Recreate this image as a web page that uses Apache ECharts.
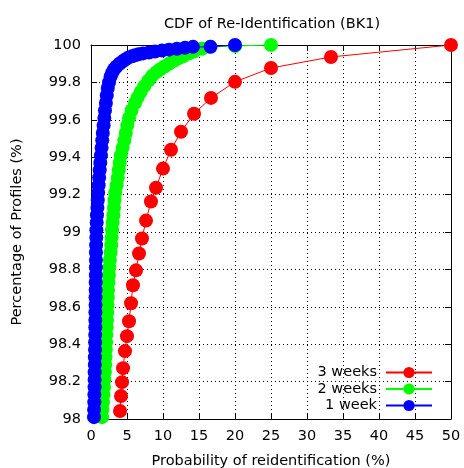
<!DOCTYPE html>
<html>
<head>
<meta charset="utf-8">
<script src="https://cdn.jsdelivr.net/npm/echarts/dist/echarts.min.js"></script>
<style>
  html, body { margin: 0; padding: 0; background: #fff; }
  #chart { width: 464px; height: 468px; }
</style>
</head>
<body>
<div id="chart"></div>
<script>
const seriesNames = ['3 weeks', '2 weeks', '1 week']
const seriesColors = ['#ff0000', '#00ff00', '#0000ff']

// 3 weeks
const redX = [4.03, 4.17, 4.31, 4.45, 4.72, 5.0, 5.28, 5.56, 5.83, 6.25, 6.67, 7.08, 7.64, 8.33, 9.03, 10.0, 11.11, 12.5, 14.31, 16.67, 20, 25, 33.33, 50]
const redY = [98.043, 98.123, 98.197, 98.272, 98.363, 98.443, 98.523, 98.619, 98.715, 98.795, 98.885, 98.965, 99.061, 99.163, 99.237, 99.339, 99.44, 99.536, 99.632, 99.717, 99.803, 99.877, 99.936, 100]

// 2 weeks
const greenX = [1.53, 1.58, 1.65, 1.74, 1.79, 1.86, 1.92, 1.97, 2.01, 2.06, 2.10, 2.14, 2.18, 2.22, 2.25, 2.29, 2.33, 2.36, 2.42, 2.49, 2.54, 2.62, 2.72, 2.81, 2.86, 2.92, 3.01, 3.11, 3.19, 3.26, 3.36, 3.56, 3.72, 3.86, 3.99, 4.14, 4.39, 4.63, 4.83, 5.04, 5.28, 5.63, 6.11, 6.49, 6.92, 7.40, 7.99, 8.51, 9.10, 9.63, 10.21, 10.83, 11.53, 12.22, 12.78, 13.61, 14.31, 15.42, 16.53, 20, 25]
const greenY = [98.01, 98.05, 98.09, 98.13, 98.17, 98.21, 98.25, 98.29, 98.33, 98.37, 98.41, 98.45, 98.49, 98.53, 98.57, 98.61, 98.65, 98.69, 98.73, 98.77, 98.81, 98.85, 98.89, 98.93, 98.97, 99.01, 99.05, 99.09, 99.13, 99.17, 99.21, 99.25, 99.29, 99.33, 99.37, 99.41, 99.45, 99.49, 99.53, 99.57, 99.61, 99.65, 99.69, 99.72, 99.75, 99.78, 99.81, 99.835, 99.855, 99.87, 99.885, 99.90, 99.915, 99.93, 99.94, 99.955, 99.965, 99.98, 99.99, 99.995, 100]

// 1 week
const blueX = [0.42, 0.43, 0.46, 0.47, 0.50, 0.50, 0.51, 0.53, 0.54, 0.56, 0.57, 0.58, 0.60, 0.60, 0.61, 0.63, 0.63, 0.64, 0.65, 0.67, 0.68, 0.69, 0.69, 0.71, 0.74, 0.75, 0.79, 0.83, 0.89, 0.94, 0.99, 1.06, 1.13, 1.21, 1.29, 1.38, 1.47, 1.56, 1.64, 1.75, 1.85, 1.94, 2.07, 2.19, 2.33, 2.50, 2.72, 2.92, 3.22, 3.54, 3.96, 4.31, 4.65, 5.07, 5.69, 6.11, 6.6, 7.22, 8.06, 8.89, 9.86, 10.83, 11.94, 13.06, 14.17, 16.6, 20]
const blueY = [98.01, 98.05, 98.09, 98.13, 98.17, 98.21, 98.25, 98.29, 98.33, 98.37, 98.41, 98.45, 98.49, 98.53, 98.57, 98.61, 98.65, 98.69, 98.73, 98.77, 98.81, 98.85, 98.89, 98.93, 98.97, 99.01, 99.05, 99.09, 99.13, 99.17, 99.21, 99.25, 99.29, 99.33, 99.37, 99.41, 99.45, 99.49, 99.53, 99.57, 99.61, 99.65, 99.69, 99.73, 99.77, 99.80, 99.83, 99.85, 99.87, 99.885, 99.90, 99.91, 99.92, 99.93, 99.94, 99.945, 99.95, 99.955, 99.96, 99.965, 99.97, 99.975, 99.98, 99.985, 99.99, 99.99, 100]

const font = 'DejaVu Sans'
const fs = 14.5
const zip = (xs, ys) => xs.map((x, i) => [x, ys[i]])
const seriesData = [zip(redX, redY), zip(greenX, greenY), zip(blueX, blueY)]

const frameLine = { show: true, onZero: false, lineStyle: { color: '#000', width: 1 } }
const innerTick = { show: true, inside: true, length: 6, lineStyle: { color: '#000' } }
const dotted = { show: true, lineStyle: { color: '#000', type: [1, 3], width: 1 } }

let chart = echarts.init(document.getElementById('chart'))
chart.setOption({
  animation: false,
  backgroundColor: '#fff',
  title: {
    text: 'CDF of Re-Identification (BK1)',
    left: 267,
    textAlign: 'center',
    top: 12,
    textStyle: { fontSize: fs, fontWeight: 'normal', color: '#000', fontFamily: font }
  },
  legend: {
    data: seriesNames,
    orient: 'vertical',
    right: 31,
    top: 365,
    align: 'right',
    itemWidth: 46,
    itemHeight: 14,
    itemGap: 1.5,
    padding: 0,
    textStyle: { fontSize: fs, color: '#000', fontFamily: font, padding: [0, 4, 0, 0] }
  },
  grid: { left: 91, right: 13, top: 45, bottom: 49, containLabel: false, outerBoundsMode: 'none' },
  xAxis: [
    {
      type: 'value', min: 0, max: 50, interval: 5, position: 'bottom',
      axisLine: frameLine, axisTick: innerTick, splitLine: dotted,
      axisLabel: { color: '#000', fontSize: fs, fontFamily: font, margin: 10 },
      name: 'Probability of reidentification (%)',
      nameLocation: 'middle',
      nameGap: 35,
      nameTextStyle: { color: '#000', fontSize: fs, fontFamily: font }
    },
    {
      type: 'value', min: 0, max: 50, interval: 5, position: 'top',
      axisLine: frameLine, axisTick: innerTick, splitLine: { show: false },
      axisLabel: { show: false }
    }
  ],
  yAxis: [
    {
      type: 'value', min: 98, max: 100, interval: 0.2, position: 'left',
      axisLine: frameLine, axisTick: innerTick, splitLine: dotted,
      axisLabel: {
        color: '#000', fontSize: fs, fontFamily: font, margin: 10,
        formatter: v => String(+v.toFixed(1))
      },
      name: 'Percentage of Profiles (%)',
      nameLocation: 'middle',
      nameGap: 66,
      nameTextStyle: { color: '#000', fontSize: fs, fontFamily: font }
    },
    {
      type: 'value', min: 98, max: 100, interval: 0.2, position: 'right',
      axisLine: frameLine, axisTick: innerTick, splitLine: { show: false },
      axisLabel: { show: false }
    }
  ],
  series: seriesNames.map((name, i) => ({
    name: name,
    type: 'line',
    xAxisIndex: 0,
    yAxisIndex: 0,
    data: seriesData[i],
    symbol: 'circle',
    symbolSize: 14,
    showAllSymbol: true,
    clip: false,
    color: seriesColors[i],
    itemStyle: { color: seriesColors[i], opacity: 1 },
    lineStyle: { color: seriesColors[i], width: 1 },
    emphasis: { disabled: true },
    z: 2 + i
  }))
})
</script>
</body>
</html>
